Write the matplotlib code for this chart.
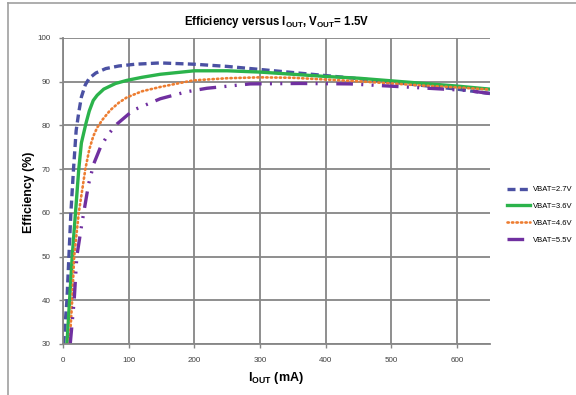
import matplotlib
matplotlib.use("Agg")
import matplotlib.pyplot as plt
from matplotlib.lines import Line2D

plt.rcParams['font.family'] = ['Liberation Sans', 'DejaVu Sans']
plt.rcParams['mathtext.fontset'] = 'custom'
plt.rcParams['mathtext.bf'] = 'Liberation Sans:bold'
plt.rcParams['mathtext.rm'] = 'Liberation Sans'

# Data (IOUT in mA, efficiency in %)
x_27 = [1, 6, 9, 12, 16, 20, 24, 28, 34, 40, 50, 65, 85, 110, 148, 200, 250, 300, 350, 400, 450, 500, 550, 600, 650]
y_27 = [30, 40, 50, 60, 70, 78.8, 83, 86.5, 89.3, 90.8, 92.0, 93.0, 93.6, 94.0, 94.3, 94.0, 93.5, 92.8, 92.1, 91.4, 90.7, 89.9, 89.1, 88.3, 87.3]

x_36 = [6, 10, 14, 19, 24, 28, 35, 40, 46, 52, 62, 80, 97, 120, 148, 200, 250, 300, 350, 400, 450, 500, 550, 600, 650]
y_36 = [30, 40, 50, 60, 70, 76, 80.5, 83.3, 85.7, 86.9, 88.3, 89.6, 90.3, 91.0, 91.7, 92.5, 92.5, 92.2, 91.7, 91.2, 90.8, 90.2, 89.6, 89.0, 88.3]

x_46 = [10, 14, 17, 24, 34, 40, 46, 52, 60, 72, 85, 97, 120, 148, 198, 250, 300, 350, 400, 450, 500, 550, 600, 650]
y_46 = [30, 40, 50, 60, 70, 74.5, 77.5, 79.5, 81.3, 83.5, 85.2, 86.4, 87.8, 88.8, 90.3, 90.8, 91.0, 90.9, 90.5, 90.1, 89.6, 89.1, 88.7, 88.2]

x_55 = [11, 14, 17, 21, 29, 39, 47, 57, 68, 82, 107, 148, 188, 219, 285, 361, 437, 533, 615, 650]
y_55 = [30, 35, 40, 50, 57.8, 66.6, 71.3, 75, 77.8, 80.3, 83.5, 86.1, 87.7, 88.5, 89.5, 89.6, 89.5, 88.7, 88.0, 87.3]

labels = ['VBAT=2.7V', 'VBAT=3.6V', 'VBAT=4.6V', 'VBAT=5.5V']
colors = ['#4B51A3', '#2BB34B', '#ED7D31', '#7030A0']

fig = plt.figure(figsize=(5.76, 3.95), dpi=100)
ax = fig.add_axes([63/576, 1-344/395, (490-63)/576, (344-38)/395])

ax.plot(x_27, y_27, color=colors[0], lw=2.4, linestyle=(0, (2.4, 1.3)), label=labels[0])
ax.plot(x_36, y_36, color=colors[1], lw=2.4, linestyle='-', label=labels[1])
ax.plot(x_46, y_46, color=colors[2], lw=1.9, linestyle=(0, (0.5, 1.2)), dash_capstyle='round', label=labels[2])
ax.plot(x_55, y_55, color=colors[3], lw=2.4, linestyle=(0, (5, 2.5, 0.6, 2.5, 0.6, 2.5)), label=labels[3])

ax.set_xlim(0, 650)
ax.set_ylim(30, 100)
ax.set_xticks(range(0, 700, 100))
ax.set_yticks(range(30, 110, 10))
ax.grid(True, color='#868686', lw=1.3)
ax.set_axisbelow(True)
for s in ['top', 'right']:
    ax.spines[s].set_visible(False)
for s in ['left', 'bottom']:
    ax.spines[s].set_color('#868686')
    ax.spines[s].set_linewidth(1.3)
ax.tick_params(axis='both', labelsize=5.8, colors='#868686', labelcolor='#404040', length=3, width=1.0, pad=6)

fig.text(277/576, 1-25/395, r'Efficiency versus I$_{\mathbf{OUT}}$, V$_{\mathbf{OUT}}$= 1.5V',
         fontsize=8.3, fontweight='bold', ha='center', va='baseline')
fig.text(276/576, 1-381/395, r'I$_{\mathbf{OUT}}$ (mA)', fontsize=9, fontweight='bold',
         ha='center', va='baseline')
fig.text(29/576, 1-192/395, 'Efficiency (%)', fontsize=8.9, fontweight='bold',
         ha='center', va='center', rotation=90)

fig.legend(loc='upper left', bbox_to_anchor=(500/576, 1-179/395), frameon=False, fontsize=5.5,
           handlelength=3.0, labelspacing=1.25, handletextpad=0.4)

fig.add_artist(Line2D([8/576, 1], [1-3/395, 1-3/395], color='#A0A0A0', lw=1.2))
fig.add_artist(Line2D([8/576, 8/576], [0, 1-3/395], color='#A0A0A0', lw=1.2))

fig.savefig('out.png', dpi=100)
